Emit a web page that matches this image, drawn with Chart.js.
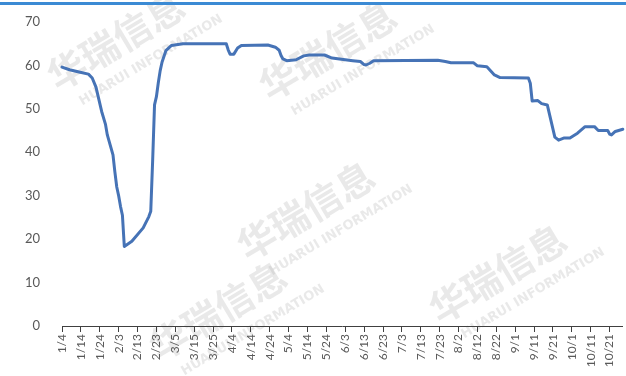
<!DOCTYPE html>
<html>
<head>
<meta charset="utf-8">
<script src="https://cdn.jsdelivr.net/npm/chart.js@4.4.0/dist/chart.umd.min.js"></script>
<style>
  body { margin: 0; background: #fff; }
  #wrap { position: relative; width: 626px; height: 376px; }
  #topbar { position: absolute; left: 0; top: 2px; width: 626px; height: 3px; background: #3b8ad4; }
</style>
</head>
<body>
<div id="wrap">
  <canvas id="myChart"></canvas>
  <div id="topbar"></div>
</div>
<script>
// etichette dell'asse x, una ogni 10 giorni a partire dal 1/4
var tickLabels = ['1/4','1/14','1/24','2/3','2/13','2/23','3/5','3/15','3/25','4/4',
                  '4/14','4/24','5/4','5/14','5/24','6/3','6/13','6/23','7/3','7/13',
                  '7/23','8/2','8/12','8/22','9/1','9/11','9/21','10/1','10/11','10/21'];
var tickDays = tickLabels.map(function(l, i) { return i * 10; });

// punti della curva: giorni dal 1/4 e valori
var days = [0, 4, 9, 14, 16, 18, 21, 23, 24, 27, 28, 29, 30, 31, 32, 33,
            37, 43, 46, 47, 48, 49, 50, 51, 52, 53, 55, 58, 64,
            87, 88, 89, 91, 93, 95, 109, 113, 115, 116, 117, 119, 124, 128, 131,
            139, 143, 150, 154, 158, 160, 161, 163, 165, 199, 203, 206, 218, 220, 225,
            229, 232, 247, 248, 249, 252, 254, 257, 261, 263, 266, 269, 273, 277,
            282, 284, 289, 290, 291, 293, 297];
var values = [59.6, 59.0, 58.5, 58.0, 57.1, 55.0, 49.4, 46.5, 44.0, 39.4, 35.5, 32.0, 30.0, 27.5, 25.5, 18.3,
              19.5, 22.6, 25.2, 26.4, 38.0, 50.9, 52.8, 56.0, 58.8, 60.8, 63.4, 64.6, 65.0,
              65.0, 63.6, 62.6, 62.6, 64.0, 64.6, 64.7, 64.2, 63.5, 62.3, 61.5, 61.1, 61.3, 62.2, 62.4,
              62.4, 61.7, 61.3, 61.1, 60.9, 60.2, 60.1, 60.5, 61.1, 61.2, 60.9, 60.6, 60.6, 59.9, 59.7,
              57.8, 57.2, 57.1, 55.9, 51.8, 51.9, 51.2, 50.9, 43.5, 42.8, 43.3, 43.3, 44.4, 45.9,
              45.9, 45.0, 45.0, 44.2, 44.0, 44.8, 45.3];

// filigrana: punto di partenza di ogni gruppo di scritte
var marks = [[58, 92], [270, 102], [248, 262], [440, 325], [160, 362]];

var points = days.map(function(d, i) { return { x: d, y: values[i] }; });

var watermark = {
  id: 'watermark',
  beforeDraw: function(chart) {
    var ctx = chart.ctx;
    ctx.save();
    ctx.fillStyle = 'rgba(175,175,175,0.28)';
    marks.forEach(function(m) {
      ctx.save();
      ctx.translate(m[0], m[1]);
      ctx.rotate(-0.54);
      ctx.font = 'bold 38px "Noto Sans CJK SC"';
      ctx.fillText('华瑞信息', 0, 0);
      ctx.font = 'bold 13px "DejaVu Sans"';
      ctx.fillText('HUARUI INFORMATION', 14, 24);
      ctx.restore();
    });
    ctx.restore();
  }
};

var chart = new Chart(document.getElementById('myChart').getContext('2d'), {
  type: 'line',
  data: {
    datasets: [{
      data: points,
      borderColor: '#4673b6',
      borderWidth: 3,
      pointRadius: 0,
      tension: 0,
      borderJoinStyle: 'round',
      borderCapStyle: 'round',
      clip: false
    }]
  },
  options: {
    responsive: true,
    maintainAspectRatio: false,
    animation: false,
    layout: { padding: { top: 22, right: 0, left: 0, bottom: 0 } },
    plugins: { legend: { display: false }, tooltip: { enabled: false } },
    scales: {
      x: {
        type: 'linear',
        min: 0,
        max: 297,
        afterBuildTicks: function(axis) {
          axis.ticks = tickDays.map(function(v) { return { value: v }; });
        },
        afterFit: function(s) { s.height = 50; },
        ticks: {
          autoSkip: false,
          minRotation: 90,
          maxRotation: 90,
          padding: 2,
          color: '#595959',
          font: { family: 'Lato', size: 12 },
          callback: function(v) { return tickLabels[v / 10]; }
        },
        grid: { display: true, drawOnChartArea: false, drawTicks: true, tickLength: 6, color: '#404040' },
        border: { display: true, color: '#404040', width: 1 }
      },
      y: {
        min: 0,
        max: 70,
        afterFit: function(s) { s.width = 62; },
        ticks: {
          stepSize: 10,
          padding: 14,
          color: '#595959',
          font: { family: 'Lato', size: 13 }
        },
        grid: { display: false },
        border: { display: false }
      }
    }
  },
  plugins: [watermark]
});
</script>
</body>
</html>
